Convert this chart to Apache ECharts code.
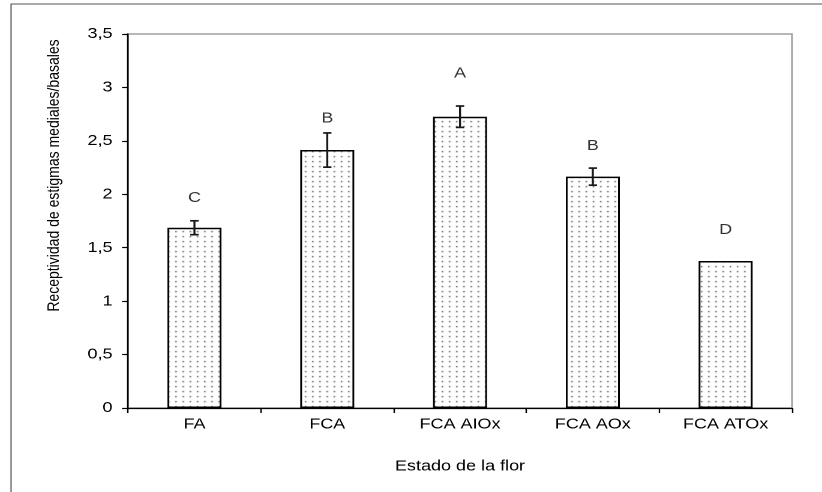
<!DOCTYPE html>
<html>
<head>
<meta charset="utf-8">
<script src="https://cdn.jsdelivr.net/npm/echarts@6/dist/echarts.min.js"></script>
<style>
  html, body { margin: 0; padding: 0; background: #fff; overflow: hidden; }
  #c { width: 685px; height: 492px; transform: scaleX(1.2); transform-origin: 0 0; }
</style>
</head>
<body>
<div id="c"></div>
<script>
// ---- data ----
const categories = ['FA', 'FCA', 'FCA AIOx', 'FCA AOx', 'FCA ATOx'];
const means = [1.687, 2.414, 2.726, 2.165, 1.376];
const errors = [0.065, 0.16, 0.10, 0.08, null];
const letters = ['C', 'B', 'A', 'B', 'D'];
const letterY = [1.965, 2.71, 3.13, 2.452, 1.665];
const yTickLabels = ['0', '0,5', '1', '1,5', '2', '2,5', '3', '3,5'];
const xTitle = 'Estado de la flor';
const yTitle = 'Receptividad de estigmas mediales/basales';

// dotted fill pattern
function makePattern() {
  const cv = document.createElement('canvas');
  cv.width = 6; cv.height = 10;
  const ctx = cv.getContext('2d');
  ctx.fillStyle = '#ffffff';
  ctx.fillRect(0, 0, 6, 10);
  ctx.fillStyle = '#3a3a3a';
  ctx.fillRect(2, 1, 1.2, 1.2);
  ctx.fillRect(2, 6, 1.2, 1.2);
  return cv;
}

const FONT = "'Liberation Sans', Arial, sans-serif";
const chart = echarts.init(document.getElementById('c'), null, { devicePixelRatio: 2 });

const errData = [];
errors.forEach((e, i) => { if (e !== null) errData.push([i, means[i], e]); });

chart.setOption({
  animation: false,
  backgroundColor: '#ffffff',
  textStyle: { fontFamily: FONT },
  grid: {
    left: 106.7, right: 25, top: 34, bottom: 84,
    show: true, borderColor: '#a0a0a0', borderWidth: 1.5, backgroundColor: 'transparent'
  },
  graphic: [
    {
      type: 'rect', silent: true, z: 0,
      shape: { x: 9.2, y: 4, width: 800, height: 700 },
      style: { fill: 'none', stroke: '#555', lineWidth: 1 }
    },
    {
      type: 'text', silent: true,
      x: 45, y: 175.5, rotation: Math.PI / 2,
      style: {
        text: yTitle, fill: '#000', font: '14px ' + FONT,
        align: 'center', verticalAlign: 'middle'
      }
    }
  ],
  xAxis: {
    type: 'category',
    data: categories,
    name: xTitle,
    nameLocation: 'middle',
    nameGap: 51,
    nameTextStyle: { fontSize: 15, color: '#000', fontFamily: FONT },
    axisLine: { lineStyle: { color: '#000', width: 1.3 } },
    axisTick: { show: true, length: 5, lineStyle: { color: '#000', width: 1.2 } },
    axisLabel: { color: '#000', fontSize: 15, margin: 9, fontFamily: FONT },
    splitLine: { show: false }
  },
  yAxis: {
    type: 'value',
    min: 0, max: 3.5, interval: 0.5,
    axisLine: { show: true, lineStyle: { color: '#000', width: 1.3 } },
    axisTick: { show: true, length: 5, lineStyle: { color: '#000', width: 1.2 } },
    axisLabel: {
      color: '#000', fontSize: 15, margin: 13, fontFamily: FONT,
      formatter: v => yTickLabels[Math.round(v / 0.5)]
    },
    splitLine: { show: false }
  },
  series: [
    {
      type: 'bar',
      data: means,
      barWidth: 45,
      itemStyle: {
        color: { image: makePattern(), repeat: 'repeat' },
        borderColor: '#000', borderWidth: 1.5
      },
      z: 2
    },
    {
      type: 'custom',
      data: errData,
      z: 5,
      renderItem: function (params, api) {
        const i = api.value(0), m = api.value(1), e = api.value(2);
        const hi = api.coord([i, m + e]);
        const lo = api.coord([i, m - e]);
        const c = 3.5;
        const st = { stroke: '#1a1a1a', lineWidth: 1.7 };
        return {
          type: 'group',
          children: [
            { type: 'line', shape: { x1: hi[0], y1: hi[1], x2: lo[0], y2: lo[1] }, style: st },
            { type: 'line', shape: { x1: hi[0] - c, y1: hi[1], x2: hi[0] + c, y2: hi[1] }, style: st },
            { type: 'line', shape: { x1: lo[0] - c, y1: lo[1], x2: lo[0] + c, y2: lo[1] }, style: st }
          ]
        };
      }
    },
    {
      type: 'scatter',
      data: letterY.map((y, i) => [i, y]),
      symbolSize: 0,
      z: 6,
      label: {
        show: true, position: 'inside', color: '#000', fontSize: 15, fontFamily: FONT,
        formatter: p => letters[p.dataIndex]
      }
    }
  ]
});
</script>
</body>
</html>
